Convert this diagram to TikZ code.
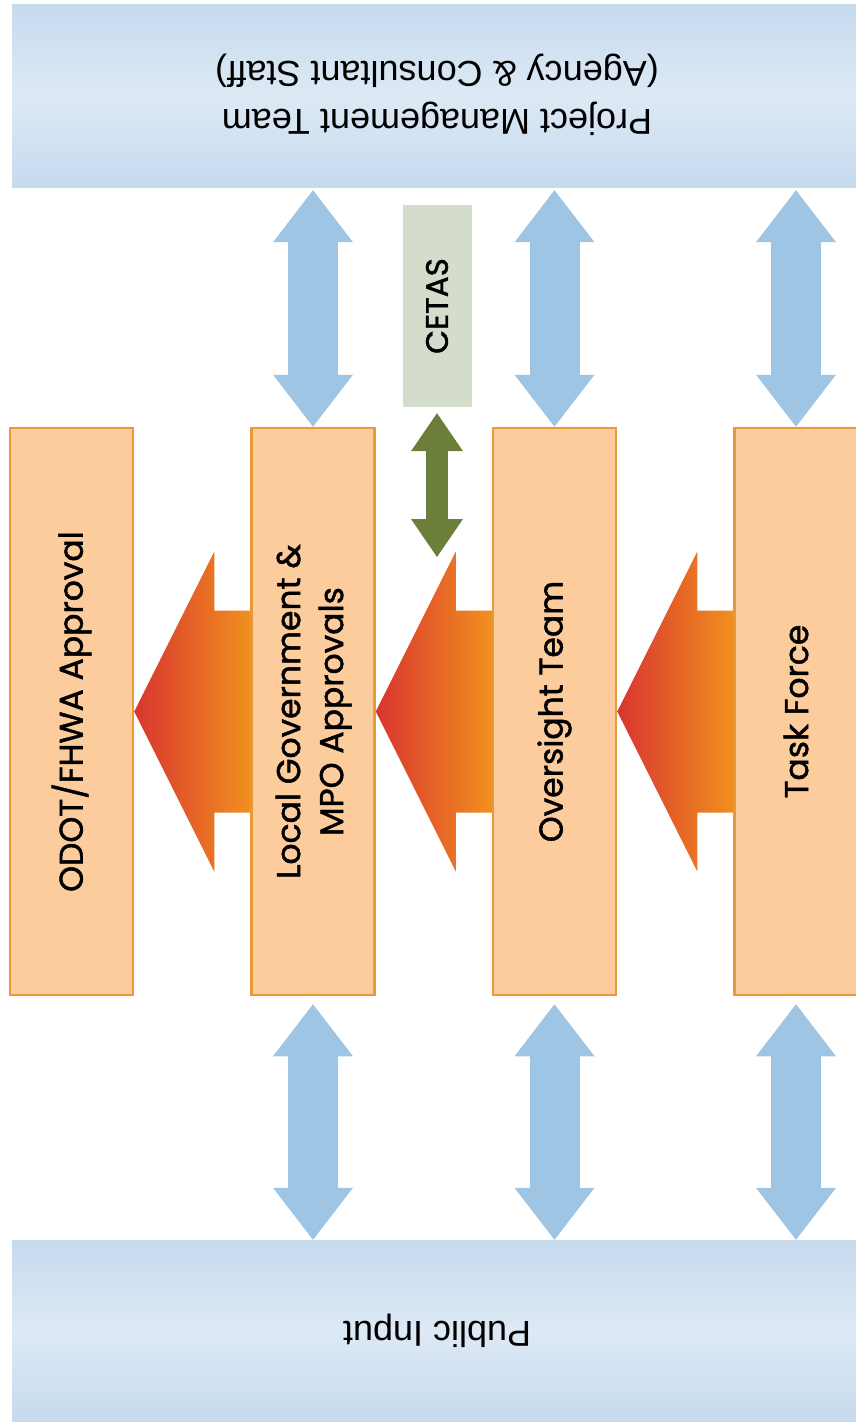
\documentclass[tikz,border=0pt]{standalone}
\usepackage{fontspec}
\usepackage{graphicx}
\setmainfont{Poppins}
\newfontfamily\stagefont{Poppins}[FakeBold=1.4]
\newfontfamily\bandfont{Liberation Sans}
\usetikzlibrary{positioning,arrows.meta}

\definecolor{stagefill}{HTML}{FCCC9D}
\definecolor{stageline}{HTML}{E8993A}
\definecolor{bandedge}{HTML}{C6DAEE}
\definecolor{bandmid}{HTML}{DDE9F5}
\definecolor{linkblue}{HTML}{9FC5E4}
\definecolor{flowred}{HTML}{D8352F}
\definecolor{flowmid}{HTML}{E8764B}
\definecolor{floworange}{HTML}{F1901E}
\definecolor{cetasfill}{HTML}{D4DCCB}
\definecolor{cetasgreen}{HTML}{6B7F3B}

\begin{document}
\begin{tikzpicture}[x=1pt, y=-1pt, node distance=116pt,
    stage/.style={draw=stageline, fill=stagefill, line width=2.5pt, minimum width=123pt, minimum height=567pt, inner sep=0pt, font=\stagefont\fontsize{33}{43}\selectfont},
    band/.style={top color=bandedge, bottom color=bandedge, middle color=bandmid, minimum width=850pt, inner sep=0pt, font=\bandfont\fontsize{36}{48}\selectfont},
    flow/.style={left color=flowred, middle color=flowmid, right color=floworange},
    twoway/.style={draw=linkblue, line width=50pt, {Triangle[width=80pt,length=52pt,line width=0pt]}-{Triangle[width=80pt,length=52pt,line width=0pt]}},
    cetaslink/.style={draw=cetasgreen, line width=22pt, shorten <=6pt, {Triangle[width=52pt,length=38pt,line width=0pt]}-{Triangle[width=52pt,length=38pt,line width=0pt]}}]
    \useasboundingbox (0,0) rectangle (856,1424);
    \clip (0,0) rectangle (856,1424);

    \node[band, minimum height=183pt] (pmt) at (437,95.5) {\rotatebox{180}{\begin{tabular}{@{}c@{}}Project Management Team\\(Agency \& Consultant Staff)\end{tabular}}};
    \node[band, minimum height=181pt] (pub) at (437,1330.5) {\rotatebox{180}{Public Input}};

    \node[stage] (odot) at (71.5,711.5) {\rotatebox{90}{ODOT/FHWA Approval}};
    \node[stage, right=of odot] (locgov) {\rotatebox{90}{\begin{tabular}{@{}c@{}}Local Government \&\\MPO Approvals\end{tabular}}};
    \node[stage, right=of locgov] (oversight) {\rotatebox{90}{Oversight Team}};
    \node[stage, right=of oversight] (task) {\rotatebox{90}{Task Force}};

    \node[fill=cetasfill, minimum width=69pt, minimum height=202pt, inner sep=0pt, font=\stagefont\fontsize{31}{36}\selectfont] (cetas) at (437,306) {\rotatebox{90}{CETAS}};
    \coordinate (cetasend) at (437,557);

    % recommendations move from right to left
    \foreach \a/\b in {locgov/odot, oversight/locgov, task/oversight} {
        \shade[flow] (\b.east) -- ++(80pt,160pt) -- ++(0pt,-59pt) -- ([yshift=101pt]\a.west)
            -- ([yshift=-101pt]\a.west) -- ([shift={(80pt,-101pt)}]\b.east) -- ++(0pt,-59pt) -- cycle;
    }

    \foreach \n in {locgov, oversight, task} {
        \draw[twoway, shorten <=3pt] (pmt.south -| \n.north) -- (\n.north);
        \draw[twoway, shorten <=8pt] (\n.south) -- (\n.south |- pub.north);
    }

    \draw[cetaslink] (cetas.south) -- (cetasend);
\end{tikzpicture}
\end{document}
